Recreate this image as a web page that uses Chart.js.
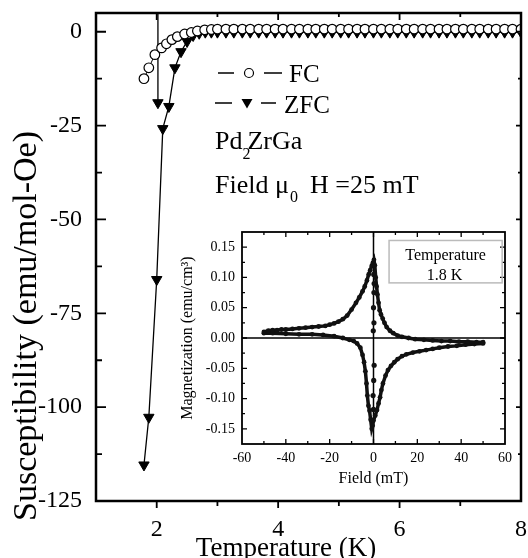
<!DOCTYPE html>
<html>
<head>
<meta charset="utf-8">
<script src="https://cdn.jsdelivr.net/npm/chart.js@4.4.1/dist/chart.umd.min.js"></script>
<style>
  html, body { margin: 0; padding: 0; background: #fff; }
  #wrap { position: relative; width: 528px; height: 558px; }
  #main { position: absolute; left: 0; top: 0; }
  #inset { position: absolute; left: 170px; top: 222px; }
</style>
</head>
<body>
<div id="wrap">
  <canvas id="main" width="528" height="558"></canvas>
  <canvas id="inset" width="346" height="272"></canvas>
</div>
<script>
Chart.defaults.font.family = "'Liberation Serif', 'Times New Roman', serif";
Chart.defaults.color = "#000";
const SERIF = Chart.defaults.font.family;

// main panel: susceptibility vs temperature
const fcTemp = [1.79, 1.87, 1.97, 2.08, 2.16, 2.25, 2.34, 2.46, 2.57, 2.67, 2.79, 2.9,
  3.0, 3.14, 3.27, 3.41, 3.54, 3.68, 3.81, 3.95, 4.08, 4.22, 4.35, 4.49, 4.62, 4.76,
  4.89, 5.03, 5.16, 5.3, 5.43, 5.57, 5.7, 5.84, 5.97, 6.11, 6.24, 6.38, 6.51, 6.65,
  6.78, 6.92, 7.05, 7.19, 7.32, 7.46, 7.59, 7.73, 7.86, 8.0];
const fcChi = [-12.5, -9.6, -6.1, -4.3, -3.2, -2.1, -1.3, -0.6, -0.2, 0.2, 0.5, 0.6,
  0.7, 0.7, 0.7, 0.7, 0.7, 0.7, 0.7, 0.7, 0.7, 0.7, 0.7, 0.7, 0.7, 0.7,
  0.7, 0.7, 0.7, 0.7, 0.7, 0.7, 0.7, 0.7, 0.7, 0.7, 0.7, 0.7, 0.7, 0.7,
  0.7, 0.7, 0.7, 0.7, 0.7, 0.7, 0.7, 0.7, 0.7, 0.7];
// first two points: the off-scale jump at 2 K, then a break (null)
const zfcTemp = [2.02, 2.02, 2.0, 1.79, 1.87, 2.0, 2.1, 2.2, 2.3, 2.4, 2.5, 2.6, 2.7, 2.8, 2.9,
  3.0, 3.14, 3.27, 3.41, 3.54, 3.68, 3.81, 3.95, 4.08, 4.22, 4.35, 4.49, 4.62, 4.76,
  4.89, 5.03, 5.16, 5.3, 5.43, 5.57, 5.7, 5.84, 5.97, 6.11, 6.24, 6.38, 6.51, 6.65,
  6.78, 6.92, 7.05, 7.19, 7.32, 7.46, 7.59, 7.73, 7.86, 8.0];
const zfcChi = [8, -18.9, null, -115.4, -102.7, -66, -25.8, -19.9, -9.6, -5.3, -2.6, -1.0, -0.4, -0.1, -0.1,
  -0.1, -0.1, -0.1, -0.1, -0.1, -0.1, -0.1, -0.1, -0.1, -0.1, -0.1, -0.1, -0.1, -0.1,
  -0.1, -0.1, -0.1, -0.1, -0.1, -0.1, -0.1, -0.1, -0.1, -0.1, -0.1, -0.1, -0.1, -0.1,
  -0.1, -0.1, -0.1, -0.1, -0.1, -0.1, -0.1, -0.1, -0.1, -0.1];
const tempTicks = [2, 4, 6, 8];
const chiTicks = [-125, -100, -75, -50, -25, 0];

// inset: M(H) loop at 1.8 K
const upField = [-50, -48, -46, -44, -42, -40, -37, -34, -31, -28, -25, -22, -20, -18, -16, -14,
  -12, -10, -8, -6.5, -5, -4, -3, -2.2, -1.5, -0.8, -0.3, 0.2, 0.6, 1.0, 1.4, 1.8, 2.3, 2.8,
  3.4, 4.2, 5.0, 6.0, 7.5, 9, 11, 13, 16, 19, 23, 27, 31, 35, 39, 43, 47, 50];
const upMag = [0.010, 0.012, 0.013, 0.013, 0.014, 0.014, 0.015, 0.016, 0.017, 0.018, 0.019, 0.020,
  0.022, 0.024, 0.027, 0.031, 0.037, 0.047, 0.058, 0.067, 0.077, 0.085, 0.095, 0.105, 0.112,
  0.119, 0.124, 0.129, 0.120, 0.100, 0.085, 0.072, 0.058, 0.046, 0.039, 0.032, 0.025, 0.018,
  0.012, 0.008, 0.004, 0.002, 0.000, -0.002, -0.003, -0.004, -0.005, -0.005, -0.006, -0.006,
  -0.007, -0.007];
const downField = [50, 46, 42, 38, 34, 30, 27, 24, 21, 18, 15, 13, 11, 9.5, 8, 6.6, 5.5, 4.3,
  3.6, 3, 2.3, 1.6, 0.8, 0, -0.4, -0.8, -1.3, -1.8, -2.3, -2.8, -3.2, -3.7, -4.3, -5, -6,
  -7.5, -9, -11, -14, -18, -23, -28, -34, -40, -46, -50];
const downMag = [-0.009, -0.010, -0.011, -0.013, -0.014, -0.016, -0.018, -0.020, -0.022, -0.024,
  -0.027, -0.030, -0.035, -0.040, -0.046, -0.053, -0.062, -0.075, -0.086, -0.098, -0.108,
  -0.119, -0.128, -0.136, -0.145, -0.150, -0.135, -0.120, -0.112, -0.095, -0.075, -0.055,
  -0.040, -0.028, -0.016, -0.009, -0.005, -0.003, 0.000, 0.003, 0.005, 0.006, 0.006, 0.007,
  0.008, 0.008];
const jumpField = [0.1, 0.3, 0.2, 0.0, 0.2, -0.1, 0.3, 0.1, -0.2, 0.0];
const jumpMag = [0.105, 0.09, 0.075, 0.05, 0.025, 0.012, -0.045, -0.07, -0.095, -0.118];
const fieldTicks = [-60, -40, -20, 0, 20, 40, 60];
const magTicks = [-0.15, -0.10, -0.05, 0, 0.05, 0.10, 0.15];

const pts = (xs, ys) => xs.map((x, i) => ({ x: x, y: ys[i] }));

// frame on all four sides plus major/minor tick marks
function boxTicks(o) {
  return {
    id: "boxTicks",
    afterDatasetsDraw(chart) {
      const { ctx, chartArea: a, scales: { x, y } } = chart;
      ctx.save();
      ctx.strokeStyle = "#000";
      ctx.lineWidth = o.tickWidth;
      ctx.beginPath();
      x.ticks.forEach(t => {
        const p = x.getPixelForValue(t.value);
        if (p < a.left + 2 || p > a.right - 2) return;
        const k = t.label === "" ? 1 : 0;
        ctx.moveTo(p, a.bottom); ctx.lineTo(p, a.bottom + o.bottom[k]);
        ctx.moveTo(p, a.top); ctx.lineTo(p, a.top + o.top[k]);
      });
      y.ticks.forEach(t => {
        const p = y.getPixelForValue(t.value);
        if (p < a.top + 2 || p > a.bottom - 2) return;
        const k = t.label === "" ? 1 : 0;
        ctx.moveTo(a.left, p); ctx.lineTo(a.left + o.left[k], p);
        ctx.moveTo(a.right, p); ctx.lineTo(a.right - o.right[k], p);
      });
      ctx.stroke();
      ctx.lineWidth = o.frameWidth;
      ctx.strokeRect(a.left, a.top, a.right - a.left, a.bottom - a.top);
      ctx.restore();
    }
  };
}

// legend, labels and axis titles of the main panel
const mainText = {
  id: "mainText",
  afterDraw(chart) {
    const ctx = chart.ctx;
    ctx.save();
    ctx.fillStyle = "#000";
    ctx.strokeStyle = "#000";
    ctx.lineWidth = 1.5;
    ctx.beginPath();
    ctx.moveTo(218, 73); ctx.lineTo(234, 73);
    ctx.moveTo(264, 73); ctx.lineTo(282, 73);
    ctx.moveTo(215, 103); ctx.lineTo(232, 103);
    ctx.moveTo(261, 103); ctx.lineTo(276, 103);
    ctx.stroke();
    ctx.lineWidth = 1.2;
    ctx.beginPath();
    ctx.arc(249, 73, 4.5, 0, Math.PI * 2);
    ctx.stroke();
    ctx.beginPath();
    ctx.moveTo(241.5, 99); ctx.lineTo(252.5, 99); ctx.lineTo(247, 108.5); ctx.closePath();
    ctx.fill();

    ctx.textBaseline = "alphabetic";
    ctx.textAlign = "left";
    ctx.font = "25px " + SERIF;
    ctx.fillText("FC", 289, 82);
    ctx.fillText("ZFC", 284, 113);

    ctx.font = "26px " + SERIF;
    ctx.fillText("Pd", 215, 149);
    let w = ctx.measureText("Pd").width;
    ctx.font = "16px " + SERIF;
    ctx.fillText("2", 215 + w, 159);
    ctx.font = "26px " + SERIF;
    ctx.fillText("ZrGa", 215 + w + 5, 149);

    ctx.fillText("Field \u03bc", 215, 193);
    w = ctx.measureText("Field \u03bc").width;
    ctx.font = "16px " + SERIF;
    ctx.fillText("0", 215 + w + 1, 202);
    ctx.font = "26px " + SERIF;
    ctx.fillText("H =25 mT", 310, 193);

    ctx.font = "27px " + SERIF;
    ctx.textAlign = "center";
    ctx.fillText("Temperature (K)", 286, 556);

    ctx.translate(36, 326);
    ctx.rotate(-Math.PI / 2);
    ctx.font = "34px " + SERIF;
    ctx.fillText("Susceptibility (emu/mol-Oe)", 0, 0);
    ctx.restore();
  }
};

new Chart(document.getElementById("main"), {
  type: "scatter",
  data: {
    datasets: [
      {
        label: "FC",
        data: pts(fcTemp, fcChi),
        showLine: true,
        borderColor: "#000",
        borderWidth: 1,
        pointStyle: "circle",
        pointRadius: 4.8,
        pointBorderWidth: 1.2,
        pointBorderColor: "#000",
        pointBackgroundColor: "#fff"
      },
      {
        label: "ZFC",
        data: pts(zfcTemp, zfcChi),
        showLine: true,
        spanGaps: false,
        borderColor: "#000",
        borderWidth: 1.3,
        pointStyle: "triangle",
        pointRotation: 180,
        pointRadius: 6,
        pointBorderWidth: 1,
        pointBorderColor: "#000",
        pointBackgroundColor: "#000"
      }
    ]
  },
  options: {
    responsive: false,
    animation: false,
    layout: { padding: { left: 0, top: 13, right: 7, bottom: 0 } },
    plugins: { legend: { display: false }, tooltip: { enabled: false } },
    scales: {
      x: {
        type: "linear",
        min: 1,
        max: 8,
        grid: { display: false, drawTicks: false },
        border: { display: false },
        ticks: {
          stepSize: 1,
          autoSkip: false,
          maxRotation: 0,
          padding: 14,
          font: { size: 24 },
          callback: v => (tempTicks.includes(v) ? String(v) : "")
        },
        afterFit: s => { s.height = 57; s.paddingLeft = 0; s.paddingRight = 0; }
      },
      y: {
        type: "linear",
        min: -125,
        max: 5,
        grid: { display: false, drawTicks: false },
        border: { display: false },
        ticks: {
          stepSize: 12.5,
          includeBounds: false,
          autoSkip: false,
          padding: 14,
          font: { size: 24 },
          callback: v => (chiTicks.includes(v) ? String(v) : "")
        },
        afterFit: s => { s.width = 96; s.paddingTop = 0; s.paddingBottom = 0; }
      }
    }
  },
  plugins: [boxTicks({ tickWidth: 1.8, frameWidth: 2.5, left: [10, 6], right: [5, 3], top: [7, 4], bottom: [7, 5] }), mainText]
});

// inset: zero lines, legend box
const insetExtras = {
  id: "insetExtras",
  beforeDatasetsDraw(chart) {
    const { ctx, chartArea: a, scales: { x, y } } = chart;
    ctx.save();
    ctx.fillStyle = "#fff";
    ctx.fillRect(a.left, a.top, a.right - a.left, a.bottom - a.top);
    ctx.strokeStyle = "#000";
    ctx.lineWidth = 1.5;
    ctx.beginPath();
    ctx.moveTo(a.left, y.getPixelForValue(0)); ctx.lineTo(a.right, y.getPixelForValue(0));
    ctx.moveTo(x.getPixelForValue(0), a.top); ctx.lineTo(x.getPixelForValue(0), a.bottom);
    ctx.stroke();
    ctx.restore();
  },
  afterDraw(chart) {
    const { ctx, scales: { x, y } } = chart;
    const l = x.getPixelForValue(7.1), r = x.getPixelForValue(58.7);
    const t = y.getPixelForValue(0.161), b = y.getPixelForValue(0.091);
    ctx.save();
    ctx.strokeStyle = "#bbb";
    ctx.lineWidth = 1.5;
    ctx.strokeRect(l, t, r - l, b - t);
    ctx.fillStyle = "#000";
    ctx.textAlign = "center";
    ctx.font = "16px " + SERIF;
    ctx.fillText("Temperature", (l + r) / 2, y.getPixelForValue(0.129));
    ctx.fillText("1.8 K", (l + r) / 2 - 1, y.getPixelForValue(0.096));
    ctx.restore();
  }
};

const dotStyle = {
  showLine: true,
  borderColor: "#111",
  borderWidth: 3.5,
  pointRadius: 2.4,
  pointBorderWidth: 0,
  pointBackgroundColor: "#111"
};

new Chart(document.getElementById("inset"), {
  type: "scatter",
  data: {
    datasets: [
      Object.assign({ label: "up", data: pts(upField, upMag) }, dotStyle),
      Object.assign({ label: "down", data: pts(downField, downMag) }, dotStyle),
      Object.assign({ label: "jump", data: pts(jumpField, jumpMag) }, dotStyle, { showLine: false, pointRadius: 2.6 })
    ]
  },
  options: {
    responsive: false,
    animation: false,
    layout: { padding: { left: 0, top: 10, right: 11, bottom: 0 } },
    plugins: { legend: { display: false }, tooltip: { enabled: false } },
    scales: {
      x: {
        type: "linear",
        min: -60,
        max: 60,
        grid: { display: false, drawTicks: false },
        border: { display: false },
        ticks: {
          stepSize: 10,
          autoSkip: false,
          maxRotation: 0,
          padding: 6,
          font: { size: 14 },
          callback: v => (fieldTicks.includes(v) ? String(v) : "")
        },
        title: { display: true, text: "Field (mT)", font: { size: 16 }, padding: { top: 0, bottom: 6 } },
        afterFit: s => { s.height = 50; s.paddingLeft = 0; s.paddingRight = 0; }
      },
      y: {
        type: "linear",
        min: -0.175,
        max: 0.175,
        grid: { display: false, drawTicks: false },
        border: { display: false },
        ticks: {
          stepSize: 0.025,
          includeBounds: false,
          autoSkip: false,
          padding: 7,
          font: { size: 14 },
          callback: v => {
            if (!magTicks.some(m => Math.abs(m - v) < 1e-6)) return "";
            return Math.abs(v) < 1e-6 ? "0.00" : v.toFixed(2);
          }
        },
        title: { display: true, text: "Magnetization (emu/cm\u00b3)", font: { size: 16 }, padding: { top: 8, bottom: 0 } },
        afterFit: s => { s.width = 72; s.paddingTop = 0; s.paddingBottom = 0; }
      }
    }
  },
  plugins: [insetExtras, boxTicks({ tickWidth: 1.3, frameWidth: 1.8, left: [5, 3], right: [5, 3], top: [5, 3], bottom: [-5, -3] })]
});
</script>
</body>
</html>
